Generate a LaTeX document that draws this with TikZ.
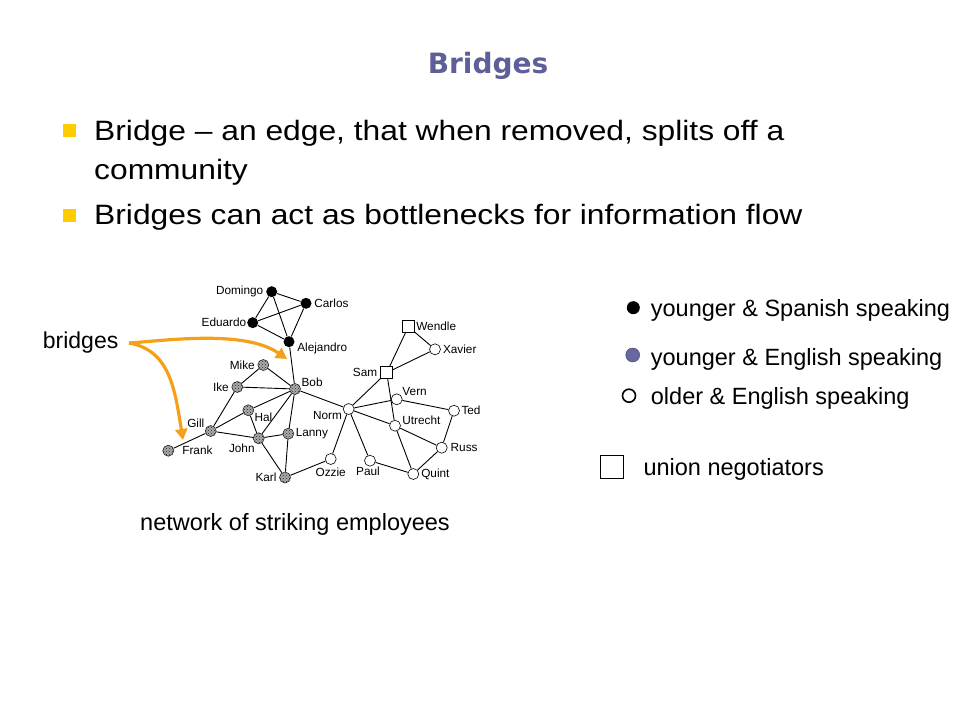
\documentclass[tikz,border=0pt]{standalone}
\usepackage{fontspec}
\setmainfont{Liberation Sans}
\newfontfamily\titlefont{DejaVu Sans}
\newfontfamily\bulletfont[FakeStretch=1.135]{Liberation Sans}
\usetikzlibrary{arrows.meta}
\usetikzlibrary{patterns}
\definecolor{titleblue}{RGB}{94,94,152}
\definecolor{bulletyellow}{RGB}{255,204,0}
\definecolor{bridgeorange}{RGB}{245,160,25}
\definecolor{slateblue}{RGB}{104,104,160}
\tikzset{
  spanish/.style={fill,circle},
  english/.style={circle,draw=black!85,line width=0.6pt,preaction={fill=gray!65},pattern=crosshatch dots,pattern color=black!85},
  older/.style={circle,draw,fill=white,line width=0.6pt},
  union/.style={rectangle,draw,fill=white,line width=0.6pt,minimum size=12pt},
  every label/.style={font=\fontsize{11.8}{12}\selectfont,inner sep=0pt,minimum size=0pt},
  label distance=2.5pt,
  bridgearrow/.style={draw=bridgeorange,line width=3.2pt,-{Triangle[length=11pt,width=12pt]}},
  legendtext/.style={anchor=base west,font=\fontsize{23.5}{26}\selectfont,minimum size=0pt},
  bulletbox/.style={fill=bulletyellow,minimum size=13pt}
}

\begin{document}
\begin{tikzpicture}[x=1pt,y=-1pt,inner sep=0pt,minimum size=11pt]
\useasboundingbox (0,0) rectangle (960,720);
% title and bullets
\node[anchor=base,font=\titlefont\bfseries\fontsize{28}{30}\selectfont,text=titleblue] (title) at (488,73.3) {Bridges};
\node[bulletbox] (bulletone) at (69,130) {};
\node[bulletbox] (bullettwo) at (69,215) {};
\node[anchor=base west,font=\bulletfont\fontsize{28}{30}\selectfont] (lineone) at (94,140) {Bridge – an edge, that when removed, splits off a};
\node[anchor=base west,font=\bulletfont\fontsize{28}{30}\selectfont] (linetwo) at (94,179) {community};
\node[anchor=base west,font=\bulletfont\fontsize{28}{30}\selectfont] (linethree) at (94,224) {Bridges can act as bottlenecks for information flow};
% network
\draw (271.7, 291.7) node[spanish,label=left:Domingo](domingo) {};
\draw (306.0, 303.3) node[spanish,label=right:Carlos](carlos) {};
\draw (252.7, 322.7) node[spanish,label={[label distance=0.5pt]left:Eduardo}](eduardo) {};
\draw (289.0, 341.7) node[spanish,label={[label distance=2.5pt]-10:Alejandro}](alejandro) {};
\draw (263.3, 365.0) node[english,label=left:Mike](mike) {};
\draw (237.3, 387.0) node[english,label=left:Ike](ike) {};
\draw (295.0, 389.0) node[english,label={[label distance=1pt]20:Bob}](bob) {};
\draw (248.3, 410.3) node[english,label={[label distance=1pt]-25:Hal}](hal) {};
\draw (210.7, 431.0) node[english,label={[label distance=1pt]155:Gill}](gill) {};
\draw (168.3, 450.7) node[english,label={[label distance=8pt]right:Frank}](frank) {};
\draw (258.7, 438.3) node[english,label={[label distance=1pt]-125:John}](john) {};
\draw (288.3, 433.7) node[english,label={[label distance=1.5pt]right:Lanny}](lanny) {};
\draw (285.0, 477.5) node[english,label=left:Karl](karl) {};
\draw (348.7, 409.0) node[older,label={[label distance=1pt]-165:Norm}](norm) {};
\draw (330.7, 459.0) node[older,label={[label distance=2.5pt]below:Ozzie}](ozzie) {};
\draw (370.0, 460.7) node[older,label={[label distance=0.5pt,xshift=-2pt]below:Paul}](paul) {};
\draw (408.3, 326.7) node[union,label={[label distance=1.5pt]right:Wendle}](wendle) {};
\draw (386.7, 372.7) node[union,label={[label distance=3pt]left:Sam}](sam) {};
\draw (435.0, 349.3) node[older,label={[label distance=2pt]right:Xavier}](xavier) {};
\draw (396.7, 399.3) node[older,label={[label distance=1pt]35:Vern}](vern) {};
\draw (454.0, 410.7) node[older,label={[label distance=1.5pt]right:Ted}](ted) {};
\draw (395.0, 425.7) node[older,label={[label distance=1.5pt]10:Utrecht}](utrecht) {};
\draw (441.7, 447.7) node[older,label={[label distance=3pt]right:Russ}](russ) {};
\draw (413.3, 474.0) node[older,label={[label distance=2pt]right:Quint}](quint) {};
\begin{scope}[line width=0.9pt]
\draw (domingo) -- (carlos);
\draw (domingo) -- (eduardo);
\draw (domingo) -- (alejandro);
\draw (carlos) -- (eduardo);
\draw (carlos) -- (alejandro);
\draw (eduardo) -- (alejandro);
\draw (alejandro) -- (bob);
\draw (mike) -- (bob);
\draw (mike) -- (ike);
\draw (ike) -- (bob);
\draw (ike) -- (gill);
\draw (gill) -- (frank);
\draw (gill) -- (hal);
\draw (gill) -- (john);
\draw (hal) -- (bob);
\draw (hal) -- (john);
\draw (john) -- (bob);
\draw (john) -- (lanny);
\draw (john) -- (karl);
\draw (lanny) -- (bob);
\draw (lanny) -- (karl);
\draw (karl) -- (ozzie);
\draw (bob) -- (norm);
\draw (norm) -- (ozzie);
\draw (norm) -- (paul);
\draw (norm) -- (sam);
\draw (norm) -- (vern);
\draw (norm) -- (utrecht);
\draw (paul) -- (quint);
\draw (sam) -- (wendle);
\draw (sam) -- (xavier);
\draw (sam) -- (utrecht);
\draw (wendle) -- (xavier);
\draw (vern) -- (ted);
\draw (ted) -- (russ);
\draw (utrecht) -- (russ);
\draw (utrecht) -- (quint);
\draw (russ) -- (quint);
\end{scope}
% bridges
\node[anchor=base west,font=\fontsize{23}{25}\selectfont,minimum size=0pt] (bridges) at (42.7,348) {bridges};
\coordinate (bobtip) at (287,359);
\coordinate (franktip) at (183,440);
\draw[bridgearrow] ([xshift=10.5pt,yshift=-1pt]bridges.east) .. controls (170,340) and (245,330) .. (bobtip);
\draw[bridgearrow] ([xshift=10.5pt,yshift=-1pt]bridges.east) .. controls (170,350) and (175,390) .. (franktip);
\node[anchor=base west,font=\fontsize{23.5}{26}\selectfont,minimum size=0pt] (caption) at (140,530) {network of striking employees};
% legend
\draw (633.3, 307.7) node[spanish,minimum size=13pt](keyspanish) {};
\draw (632.7, 355.0) node[circle,fill=slateblue,draw=slateblue!60!black,minimum size=14pt](keyenglish) {};
\draw (629.0, 395.7) node[circle,draw,line width=1.6pt,minimum size=13pt](keyolder) {};
\draw (612.0, 467.0) node[rectangle,draw,line width=1.5pt,minimum size=23pt](keyunion) {};
\node[legendtext] (keyspanishtext) at (650.7,316.7) {younger \& Spanish speaking};
\node[legendtext] (keyenglishtext) at (650.7,365) {younger \& English speaking};
\node[legendtext] (keyoldertext) at (650.7,404) {older \& English speaking};
\node[legendtext] (keyuniontext) at (643.3,475) {union negotiators};
\end{tikzpicture}
\end{document}
